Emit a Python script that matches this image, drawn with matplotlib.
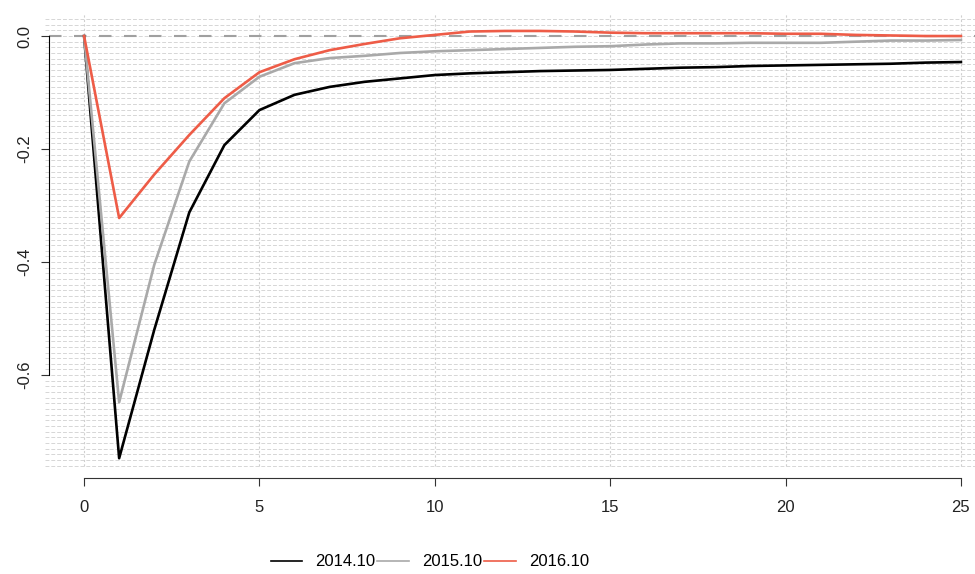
import numpy as np
import matplotlib
matplotlib.use("Agg")
import matplotlib.pyplot as plt

plt.rcParams['font.family'] = ['Liberation Sans', 'DejaVu Sans']

# horizonte (0..25) y respuestas
horizonte = list(range(26))
serie_2014 = [0, -0.747, -0.52, -0.312, -0.193, -0.131, -0.104, -0.090, -0.081, -0.075,
              -0.069, -0.066, -0.064, -0.062, -0.061, -0.060, -0.058, -0.056, -0.055, -0.053,
              -0.052, -0.051, -0.050, -0.049, -0.047, -0.046]
serie_2015 = [0, -0.648, -0.405, -0.222, -0.119, -0.072, -0.048, -0.039, -0.035, -0.030,
              -0.027, -0.025, -0.023, -0.021, -0.019, -0.018, -0.015, -0.013, -0.013, -0.012,
              -0.012, -0.012, -0.010, -0.008, -0.008, -0.007]
serie_2016 = [0, -0.322, -0.245, -0.175, -0.110, -0.064, -0.041, -0.025, -0.014, -0.004,
              0.002, 0.008, 0.009, 0.009, 0.008, 0.006, 0.005, 0.005, 0.005, 0.005,
              0.004, 0.004, 0.002, 0.001, 0.000, 0.000]
etiquetas = ['2014.10', '2015.10', '2016.10']
colores = ['black', '#a9a9a9', '#ee5c47']

y_ticks = [-0.6, -0.4, -0.2, 0.0]
x_ticks = [0, 5, 10, 15, 20, 25]

fig = plt.figure(figsize=(9.75, 5.74), dpi=100)
ax = fig.add_axes([49 / 975, 96 / 574, 947 / 975, 464 / 574])
ax.set_xlim(-1, 26)
ax.set_ylim(-0.782, 0.039)

# rejilla: muchas líneas horizontales discontinuas y verticales punteadas
for yy in np.arange(-0.76, 0.035, 0.01):
    ax.plot([-1.1, 26], [yy, yy], color='#d6d6d6', lw=0.7, ls=(0, (4, 2)), zorder=0,
            clip_on=False)
for xx in x_ticks:
    ax.plot([xx, xx], [-0.76, 0.039], color='#cfcfcf', lw=0.8, ls=(0, (2, 2)), zorder=0)

ax.axhline(0, color='#a0a0a0', lw=1.5, ls=(0, (6, 6)), zorder=1)

series = [serie_2014, serie_2015, serie_2016]
for s, lab, c in zip(series, etiquetas, colores):
    ax.plot(horizonte, s, color=c, lw=1.9, label=lab, zorder=3)

# ejes estilo R
for lado in ['top', 'right']:
    ax.spines[lado].set_visible(False)
ax.spines['bottom'].set_bounds(0, 25)
ax.spines['left'].set_bounds(-0.6, 0)
ax.spines['bottom'].set_position(('data', -0.782))
ax.spines['left'].set_linestyle((0, (3, 1)))
ax.spines['bottom'].set_color('#333333')
ax.set_xticks(x_ticks)
ax.set_yticks(y_ticks)
ax.set_yticklabels([f'{v:.1f}' for v in y_ticks], rotation=90, va='center')
ax.tick_params(axis='both', labelsize=12, length=6, color='#333333', colors='#222222')
ax.tick_params(axis='x', pad=10)
ax.tick_params(axis='y', pad=6)

fig.legend(loc='center', bbox_to_anchor=(0.441, 0.021), ncol=3, frameon=False,
           fontsize=12, handlelength=1.9, handletextpad=0.8, columnspacing=0.1,
           borderpad=0)
for linea in fig.legends[0].get_lines():
    linea.set_linewidth(1.2)

fig.savefig('out.png', dpi=100)
